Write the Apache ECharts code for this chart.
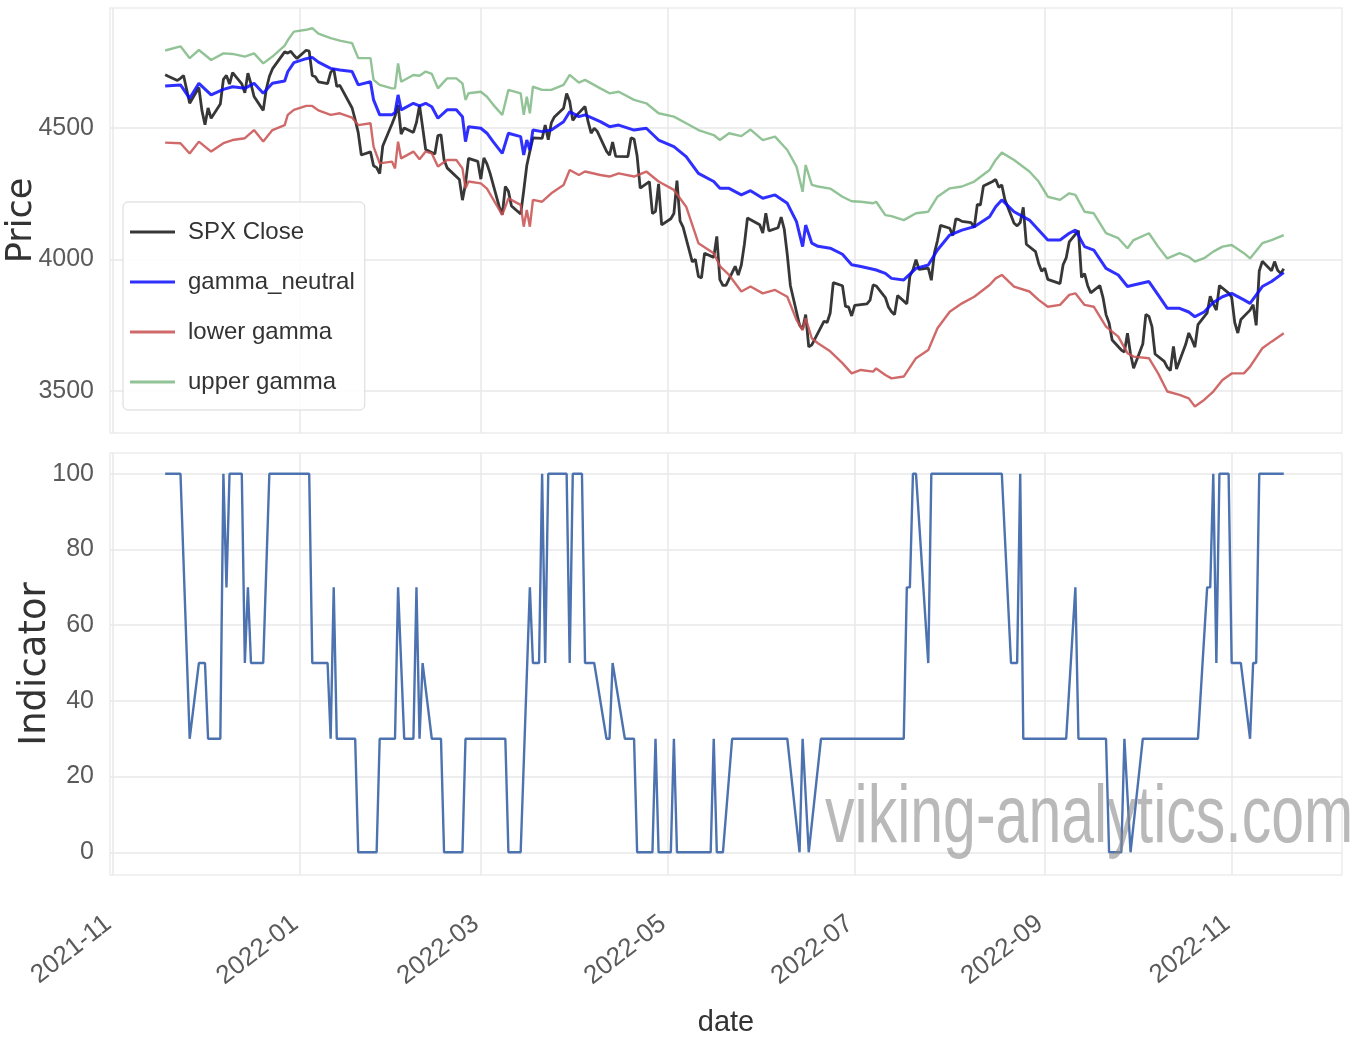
<!DOCTYPE html>
<html><head><meta charset="utf-8">
<script src="https://cdn.jsdelivr.net/npm/echarts@6/dist/echarts.min.js"></script>
<style>html,body{margin:0;padding:0;background:#fff}#c{width:1367px;height:1041px}</style>
</head><body><div id="c"></div>
<script>
const xTickLabels = ['2021-11','2022-01','2022-03','2022-05','2022-07','2022-09','2022-11'];
const priceTicks = [3500, 4000, 4500];
const indicatorTicks = [0, 20, 40, 60, 80, 100];
const seriesNames = ['SPX Close', 'gamma_neutral', 'lower gamma', 'upper gamma'];

const spxDates = [
'2021-11-18','2021-11-19','2021-11-22','2021-11-23','2021-11-24','2021-11-26','2021-11-29','2021-11-30',
'2021-12-01','2021-12-02','2021-12-03','2021-12-06','2021-12-07','2021-12-08','2021-12-09','2021-12-10','2021-12-13','2021-12-14','2021-12-15','2021-12-16','2021-12-17','2021-12-20','2021-12-21','2021-12-22','2021-12-23','2021-12-27','2021-12-28','2021-12-29','2021-12-30','2021-12-31',
'2022-01-03','2022-01-04','2022-01-05','2022-01-06','2022-01-07','2022-01-10','2022-01-11','2022-01-12','2022-01-13','2022-01-14','2022-01-18','2022-01-19','2022-01-20','2022-01-21','2022-01-24','2022-01-25','2022-01-26','2022-01-27','2022-01-28','2022-01-31',
'2022-02-01','2022-02-02','2022-02-03','2022-02-04','2022-02-07','2022-02-08','2022-02-09','2022-02-10','2022-02-11','2022-02-14','2022-02-15','2022-02-16','2022-02-17','2022-02-18','2022-02-22','2022-02-23','2022-02-24','2022-02-25','2022-02-28',
'2022-03-01','2022-03-02','2022-03-03','2022-03-04','2022-03-07','2022-03-08','2022-03-09','2022-03-10','2022-03-11','2022-03-14','2022-03-15','2022-03-16','2022-03-17','2022-03-18','2022-03-21','2022-03-22','2022-03-23','2022-03-24','2022-03-25','2022-03-28','2022-03-29','2022-03-30','2022-03-31',
'2022-04-01','2022-04-04','2022-04-05','2022-04-06','2022-04-07','2022-04-08','2022-04-11','2022-04-12','2022-04-13','2022-04-14','2022-04-18','2022-04-19','2022-04-20','2022-04-21','2022-04-22','2022-04-25','2022-04-26','2022-04-27','2022-04-28','2022-04-29',
'2022-05-02','2022-05-03','2022-05-04','2022-05-05','2022-05-06','2022-05-09','2022-05-10','2022-05-11','2022-05-12','2022-05-13','2022-05-16','2022-05-17','2022-05-18','2022-05-19','2022-05-20','2022-05-23','2022-05-24','2022-05-25','2022-05-26','2022-05-27','2022-05-31',
'2022-06-01','2022-06-02','2022-06-03','2022-06-06','2022-06-07','2022-06-08','2022-06-09','2022-06-10','2022-06-13','2022-06-14','2022-06-15','2022-06-16','2022-06-17','2022-06-21','2022-06-22','2022-06-23','2022-06-24','2022-06-27','2022-06-28','2022-06-29','2022-06-30',
'2022-07-01','2022-07-05','2022-07-06','2022-07-07','2022-07-08','2022-07-11','2022-07-12','2022-07-13','2022-07-14','2022-07-15','2022-07-18','2022-07-19','2022-07-20','2022-07-21','2022-07-22','2022-07-25','2022-07-26','2022-07-27','2022-07-28','2022-07-29',
'2022-08-01','2022-08-02','2022-08-03','2022-08-04','2022-08-05','2022-08-08','2022-08-09','2022-08-10','2022-08-11','2022-08-12','2022-08-15','2022-08-16','2022-08-17','2022-08-18','2022-08-19','2022-08-22','2022-08-23','2022-08-24','2022-08-25','2022-08-26','2022-08-29','2022-08-30','2022-08-31',
'2022-09-01','2022-09-02','2022-09-06','2022-09-07','2022-09-08','2022-09-09','2022-09-12','2022-09-13','2022-09-14','2022-09-15','2022-09-16','2022-09-19','2022-09-20','2022-09-21','2022-09-22','2022-09-23','2022-09-26','2022-09-27','2022-09-28','2022-09-29','2022-09-30',
'2022-10-03','2022-10-04','2022-10-05','2022-10-06','2022-10-07','2022-10-10','2022-10-11','2022-10-12','2022-10-13','2022-10-14','2022-10-17','2022-10-18','2022-10-19','2022-10-20','2022-10-21','2022-10-24','2022-10-25','2022-10-26','2022-10-27','2022-10-28','2022-10-31',
'2022-11-01','2022-11-02','2022-11-03','2022-11-04','2022-11-07','2022-11-08','2022-11-09','2022-11-10','2022-11-11','2022-11-14','2022-11-15','2022-11-16','2022-11-17','2022-11-18'
];
const spxClose = [
4704,4698,4682,4690,4701,4595,4655,4567,
4513,4577,4538,4592,4686,4701,4668,4712,4669,4635,4710,4669,4621,4568,4649,4697,4726,4791,4786,4793,4778,4766,
4797,4794,4701,4696,4677,4670,4713,4726,4659,4663,4577,4533,4483,4398,4410,4357,4350,4327,4432,4516,
4546,4589,4478,4501,4484,4522,4587,4504,4419,4402,4472,4475,4380,4349,4305,4226,4288,4385,4374,
4306,4387,4364,4329,4201,4171,4278,4260,4204,4173,4262,4358,4412,4463,4461,4512,4456,4520,4543,4576,4632,4602,4530,
4546,4583,4525,4481,4500,4488,4413,4397,4447,4393,4392,4463,4459,4394,4272,4297,4175,4183,4288,4132,
4155,4175,4300,4147,4123,3991,4001,3935,3930,4024,4008,4088,3923,3901,3901,3974,3941,3979,4058,4158,4132,
4101,4176,4109,4121,4161,4116,4018,3901,3750,3735,3790,3667,3675,3765,3760,3796,3912,3900,3821,3819,3785,
3825,3831,3845,3903,3899,3855,3819,3801,3790,3863,3831,3937,3960,3999,3962,3967,3921,4024,4072,4130,
4119,4091,4155,4152,4145,4140,4122,4210,4207,4280,4297,4305,4275,4284,4228,4138,4128,4141,4199,4058,4030,3986,3955,
3967,3924,3908,3980,4006,4067,4110,3932,3946,3901,3873,3900,3856,3790,3758,3693,3655,3647,3719,3640,3586,
3678,3791,3783,3744,3640,3612,3589,3577,3669,3583,3677,3720,3695,3666,3752,3797,3860,3831,3807,3901,3872,
3856,3760,3720,3771,3807,3828,3749,3956,3993,3957,3992,3959,3947,3965
];

const gammaDates = [
'2021-11-18','2021-11-23','2021-11-26','2021-11-29','2021-12-03','2021-12-07','2021-12-10','2021-12-14','2021-12-17','2021-12-20','2021-12-23','2021-12-27','2021-12-28','2021-12-30','2022-01-03','2022-01-05','2022-01-07','2022-01-11','2022-01-14','2022-01-18','2022-01-20','2022-01-24','2022-01-25','2022-01-27','2022-01-31','2022-02-01','2022-02-02','2022-02-03','2022-02-07',
'2022-02-09','2022-02-11','2022-02-13','2022-02-15','2022-02-18','2022-02-21','2022-02-23','2022-02-24','2022-02-25','2022-03-01','2022-03-03','2022-03-05','2022-03-08','2022-03-10','2022-03-14','2022-03-15','2022-03-16','2022-03-17','2022-03-18','2022-03-21','2022-03-24','2022-03-28','2022-03-30','2022-04-02','2022-04-04','2022-04-09','2022-04-12','2022-04-15','2022-04-20','2022-04-24','2022-04-28','2022-05-03','2022-05-07','2022-05-11','2022-05-16','2022-05-18',
'2022-05-21','2022-05-25','2022-05-28','2022-06-01','2022-06-05','2022-06-09','2022-06-12','2022-06-14','2022-06-15','2022-06-17','2022-06-19','2022-06-23','2022-06-27','2022-06-30','2022-07-03','2022-07-07','2022-07-08','2022-07-11','2022-07-13','2022-07-17','2022-07-21','2022-07-25','2022-07-28','2022-08-01','2022-08-05','2022-08-09','2022-08-14','2022-08-16','2022-08-18','2022-08-22','2022-08-27',
'2022-08-30','2022-09-02','2022-09-06','2022-09-09','2022-09-11','2022-09-14','2022-09-17','2022-09-21','2022-09-25','2022-09-28','2022-09-30','2022-10-05','2022-10-08','2022-10-11','2022-10-15','2022-10-18','2022-10-20','2022-10-23','2022-10-26','2022-10-29','2022-11-01','2022-11-05','2022-11-07','2022-11-11','2022-11-14','2022-11-18'
];
const gammaNeutral = [
4661,4665,4614,4671,4627,4648,4658,4652,4671,4633,4671,4680,4715,4750,4765,4770,4752,4728,4722,4716,4665,4677,4608,4551,4551,4560,4627,4570,4595,
4585,4595,4582,4538,4570,4570,4544,4449,4506,4500,4481,4449,4404,4481,4468,4398,4455,4417,4493,4487,4493,4525,4563,4544,4551,4525,4506,4512,4493,4500,4455,4430,4392,4328,4297,4271,
4271,4246,4262,4233,4246,4214,4144,4049,4131,4062,4050,4043,4020,3980,3973,3963,3960,3947,3928,3922,3966,3979,4036,4093,4112,4125,4163,4201,4227,4182,4150,
4112,4074,4074,4100,4112,4049,4036,3966,3941,3897,3903,3916,3865,3814,3814,3800,3782,3800,3836,3858,3871,3846,3833,3897,3916,3950
];
const lowerGamma = [
4445,4443,4404,4449,4411,4443,4455,4462,4493,4449,4493,4512,4551,4570,4585,4585,4568,4551,4557,4540,4512,4519,4430,4366,4373,4347,4449,4385,4411,
4382,4411,4404,4354,4379,4379,4347,4271,4297,4290,4270,4230,4170,4233,4208,4125,4189,4125,4227,4220,4252,4284,4341,4322,4335,4322,4316,4328,4316,4335,4297,4265,4201,4062,4024,3975,
3941,3878,3897,3871,3884,3858,3770,3731,3776,3700,3681,3650,3605,3566,3579,3573,3585,3560,3547,3554,3624,3655,3738,3801,3833,3858,3903,3928,3941,3897,3878,
3846,3820,3827,3865,3871,3827,3820,3744,3706,3643,3630,3624,3566,3497,3484,3471,3440,3465,3497,3541,3566,3566,3592,3662,3687,3719
];
const upperGamma = [
4796,4812,4767,4798,4760,4785,4783,4773,4785,4747,4773,4815,4835,4868,4875,4881,4860,4843,4834,4824,4767,4767,4684,4665,4652,4652,4747,4677,4703,
4700,4716,4707,4652,4690,4690,4671,4608,4633,4639,4620,4590,4551,4646,4633,4551,4620,4557,4658,4646,4646,4665,4703,4674,4684,4652,4633,4639,4608,4595,4557,4544,4519,4493,4474,4455,
4481,4470,4495,4455,4468,4417,4354,4258,4360,4284,4278,4270,4239,4222,4220,4214,4220,4169,4165,4150,4176,4182,4239,4271,4278,4297,4341,4379,4407,4379,4335,
4297,4239,4227,4252,4246,4182,4176,4100,4081,4043,4074,4100,4049,4004,4024,4010,3992,4005,4030,4049,4055,4024,4004,4062,4074,4093
];

const indicatorDates = [
'2021-11-18','2021-11-23','2021-11-26','2021-11-29','2021-12-01','2021-12-02','2021-12-06','2021-12-07','2021-12-08','2021-12-09','2021-12-13','2021-12-14','2021-12-15','2021-12-16','2021-12-20','2021-12-22',
'2022-01-04','2022-01-05','2022-01-10','2022-01-11','2022-01-12','2022-01-13','2022-01-19','2022-01-20','2022-01-26','2022-01-27',
'2022-02-01','2022-02-02','2022-02-04','2022-02-07','2022-02-08','2022-02-09','2022-02-10','2022-02-13','2022-02-16','2022-02-17','2022-02-23','2022-02-24',
'2022-03-09','2022-03-10','2022-03-14','2022-03-17','2022-03-18','2022-03-20','2022-03-21','2022-03-22','2022-03-23','2022-03-29','2022-03-30','2022-03-31',
'2022-04-03','2022-04-04','2022-04-07','2022-04-11','2022-04-12','2022-04-13','2022-04-17','2022-04-20','2022-04-21','2022-04-26','2022-04-27','2022-04-28',
'2022-05-02','2022-05-03','2022-05-04','2022-05-15','2022-05-16','2022-05-17','2022-05-19','2022-05-22',
'2022-06-09','2022-06-13','2022-06-14','2022-06-16','2022-06-20',
'2022-07-17','2022-07-18','2022-07-19','2022-07-20','2022-07-21','2022-07-25','2022-07-26',
'2022-08-18','2022-08-21','2022-08-23','2022-08-24','2022-08-25',
'2022-09-08','2022-09-11','2022-09-12','2022-09-21','2022-09-22','2022-09-26','2022-09-27','2022-09-29',
'2022-10-03','2022-10-21','2022-10-24','2022-10-25','2022-10-26','2022-10-27','2022-10-28','2022-10-31',
'2022-11-01','2022-11-04','2022-11-07','2022-11-08','2022-11-09','2022-11-10','2022-11-18'
];
const indicatorValues = [
100,100,30,50,50,30,30,100,70,100,100,50,70,50,50,100,
100,50,50,30,70,30,30,0,0,30,
30,70,30,30,70,30,50,30,30,0,0,30,
30,0,0,70,50,50,100,50,100,100,50,100,
100,50,50,30,30,50,30,30,0,0,30,0,
0,30,0,0,30,0,0,30,
30,0,30,0,30,
30,70,70,100,100,50,100,
100,50,50,100,30,
30,70,30,30,0,0,30,0,
30,30,70,70,100,50,100,100,
50,50,30,50,50,100,100
];

const SANS = '"Liberation Sans","Noto Sans",sans-serif';
const WIDE = '"DejaVu Sans","Liberation Sans",sans-serif';

const ts = s => { const p = s.split('-').map(Number); return Date.UTC(p[0], p[1] - 1, p[2] || 1); };
const pairs = (dates, vals) => dates.map((d, i) => [ts(d), vals[i]]);
const xTicks = xTickLabels.map(ts);
const xMin = ts('2021-10-31'), xMax = ts('2022-12-07');

const gridLine = { show: true, lineStyle: { color: '#e8e8e8', width: 1.5 } };
const tickLabel = { fontFamily: SANS, fontSize: 25, color: '#5a5a5a' };
const xLabelFmt = v => { const i = xTicks.indexOf(v); return i >= 0 ? xTickLabels[i] : ''; };
const yLabelFmt = v => String(v);

const chart = echarts.init(document.getElementById('c'));
chart.setOption({
  animation: false,
  backgroundColor: '#ffffff',
  grid: [
    { left: 110, top: 8, width: 1232, height: 425, show: true, borderColor: '#ededed', borderWidth: 1.5,
      containLabel: false, outerBoundsMode: 'none' },
    { left: 110, top: 453, width: 1232, height: 422, show: true, borderColor: '#ededed', borderWidth: 1.5,
      containLabel: false, outerBoundsMode: 'none' }
  ],
  xAxis: [
    { type: 'value', gridIndex: 0, min: xMin, max: xMax,
      axisLine: { show: false }, axisTick: { show: false, customValues: xTicks },
      axisLabel: { show: false, customValues: xTicks }, splitLine: gridLine },
    { type: 'value', gridIndex: 1, min: xMin, max: xMax,
      axisLine: { show: false }, axisTick: { show: false, customValues: xTicks },
      axisLabel: Object.assign({ customValues: xTicks, rotate: 38, margin: 42, padding: [0, 6, 0, 0],
        formatter: xLabelFmt }, tickLabel, { fontSize: 26 }),
      splitLine: gridLine,
      name: 'date', nameLocation: 'middle', nameGap: 133, nameMoveOverlap: false,
      nameTextStyle: { fontFamily: SANS, fontSize: 29, color: '#333' } }
  ],
  yAxis: [
    { type: 'value', gridIndex: 0, min: 3339, max: 4958,
      axisLine: { show: false }, axisTick: { show: false, customValues: priceTicks },
      axisLabel: Object.assign({ customValues: priceTicks, margin: 16, formatter: yLabelFmt }, tickLabel),
      splitLine: gridLine,
      name: 'Price', nameLocation: 'middle', nameRotate: 90, nameGap: 71, nameMoveOverlap: false,
      nameTextStyle: { fontFamily: WIDE, fontSize: 35, color: '#333' } },
    { type: 'value', gridIndex: 1, min: -6, max: 105.5,
      axisLine: { show: false }, axisTick: { show: false, customValues: indicatorTicks },
      axisLabel: Object.assign({ customValues: indicatorTicks, margin: 16, formatter: yLabelFmt }, tickLabel),
      splitLine: gridLine,
      name: 'Indicator', nameLocation: 'middle', nameRotate: 90, nameGap: 56, nameMoveOverlap: false,
      nameTextStyle: { fontFamily: WIDE, fontSize: 37, color: '#333' } }
  ],
  legend: {
    orient: 'vertical', left: 123, top: 202, data: seriesNames,
    icon: 'rect', itemWidth: 45, itemHeight: 3, itemGap: 20,
    padding: [15, 10, 13, 7],
    backgroundColor: 'rgba(255,255,255,0.85)', borderColor: '#d8d8d8', borderWidth: 1, borderRadius: 5,
    textStyle: { fontFamily: SANS, fontSize: 24, color: '#333', lineHeight: 30, padding: [0, 0, 0, 8] }
  },
  series: [
    { name: seriesNames[0], type: 'line', xAxisIndex: 0, yAxisIndex: 0, data: pairs(spxDates, spxClose),
      showSymbol: false, color: 'rgba(20,20,20,0.85)', lineStyle: { width: 2.8 } },
    { name: seriesNames[1], type: 'line', xAxisIndex: 0, yAxisIndex: 0, data: pairs(gammaDates, gammaNeutral),
      showSymbol: false, color: 'rgba(10,10,255,0.85)', lineStyle: { width: 3 } },
    { name: seriesNames[2], type: 'line', xAxisIndex: 0, yAxisIndex: 0, data: pairs(gammaDates, lowerGamma),
      showSymbol: false, color: 'rgba(200,80,80,0.85)', lineStyle: { width: 2.4 } },
    { name: seriesNames[3], type: 'line', xAxisIndex: 0, yAxisIndex: 0, data: pairs(gammaDates, upperGamma),
      showSymbol: false, color: 'rgba(110,175,115,0.75)', lineStyle: { width: 2.4 } },
    { name: 'Indicator', type: 'line', xAxisIndex: 1, yAxisIndex: 1, data: pairs(indicatorDates, indicatorValues),
      showSymbol: false, color: '#4c72b0', lineStyle: { width: 2.4 } }
  ],
  graphic: [
    { type: 'text', x: 825, y: 778, scaleX: 0.72, z: 100,
      style: { text: 'viking-analytics.com', fontSize: 82, fontFamily: SANS, verticalAlign: 'top',
        fill: 'rgba(135,135,135,0.58)' } }
  ]
});
</script>
</body></html>
